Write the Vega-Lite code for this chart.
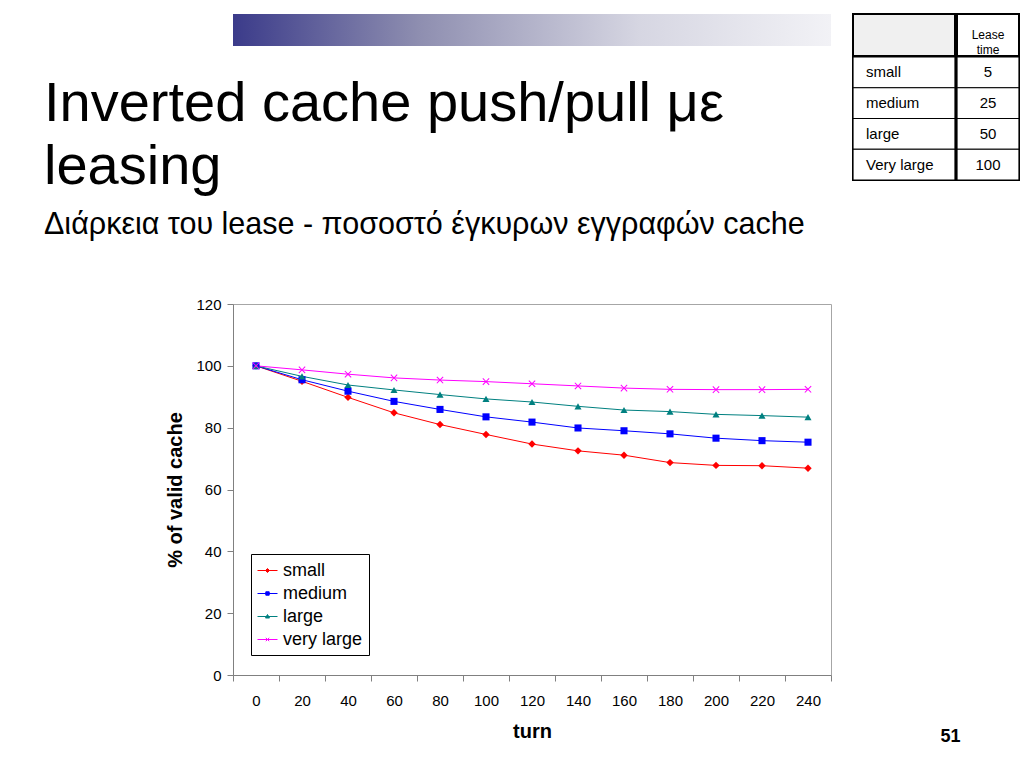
{
  "$schema": "https://vega.github.io/schema/vega-lite/v6.json",
  "background": "white",
  "padding": {"left": 44, "top": 13, "right": 4, "bottom": 4},
  "config": {"font": "Liberation Sans", "view": {"stroke": null}},
  "datasets": {
    "cache": [
      {"turn": 0, "series": "small", "pct": 100}, {"turn": 20, "series": "small", "pct": 95.0}, {"turn": 40, "series": "small", "pct": 89.8}, {"turn": 60, "series": "small", "pct": 84.8}, {"turn": 80, "series": "small", "pct": 81.0}, {"turn": 100, "series": "small", "pct": 77.8}, {"turn": 120, "series": "small", "pct": 74.7}, {"turn": 140, "series": "small", "pct": 72.5}, {"turn": 160, "series": "small", "pct": 71.1}, {"turn": 180, "series": "small", "pct": 68.7}, {"turn": 200, "series": "small", "pct": 67.8}, {"turn": 220, "series": "small", "pct": 67.7}, {"turn": 240, "series": "small", "pct": 66.9},
      {"turn": 0, "series": "medium", "pct": 100}, {"turn": 20, "series": "medium", "pct": 95.5}, {"turn": 40, "series": "medium", "pct": 91.8}, {"turn": 60, "series": "medium", "pct": 88.5}, {"turn": 80, "series": "medium", "pct": 85.9}, {"turn": 100, "series": "medium", "pct": 83.5}, {"turn": 120, "series": "medium", "pct": 81.8}, {"turn": 140, "series": "medium", "pct": 79.9}, {"turn": 160, "series": "medium", "pct": 79.0}, {"turn": 180, "series": "medium", "pct": 78.0}, {"turn": 200, "series": "medium", "pct": 76.6}, {"turn": 220, "series": "medium", "pct": 75.8}, {"turn": 240, "series": "medium", "pct": 75.3},
      {"turn": 0, "series": "large", "pct": 100}, {"turn": 20, "series": "large", "pct": 96.6}, {"turn": 40, "series": "large", "pct": 93.8}, {"turn": 60, "series": "large", "pct": 92.2}, {"turn": 80, "series": "large", "pct": 90.7}, {"turn": 100, "series": "large", "pct": 89.3}, {"turn": 120, "series": "large", "pct": 88.3}, {"turn": 140, "series": "large", "pct": 86.9}, {"turn": 160, "series": "large", "pct": 85.7}, {"turn": 180, "series": "large", "pct": 85.2}, {"turn": 200, "series": "large", "pct": 84.3}, {"turn": 220, "series": "large", "pct": 83.9}, {"turn": 240, "series": "large", "pct": 83.4},
      {"turn": 0, "series": "very large", "pct": 100}, {"turn": 20, "series": "very large", "pct": 98.7}, {"turn": 40, "series": "very large", "pct": 97.3}, {"turn": 60, "series": "very large", "pct": 96.1}, {"turn": 80, "series": "very large", "pct": 95.4}, {"turn": 100, "series": "very large", "pct": 94.9}, {"turn": 120, "series": "very large", "pct": 94.2}, {"turn": 140, "series": "very large", "pct": 93.5}, {"turn": 160, "series": "very large", "pct": 92.8}, {"turn": 180, "series": "very large", "pct": 92.4}, {"turn": 200, "series": "very large", "pct": 92.3}, {"turn": 220, "series": "very large", "pct": 92.3}, {"turn": 240, "series": "very large", "pct": 92.4}
    ],
    "lease": [
      {"size": "small", "time": 5},
      {"size": "medium", "time": 25},
      {"size": "large", "time": 50},
      {"size": "Very large", "time": 100}
    ],
    "header": [{"label": ["Lease", "time"]}]
  },
  "title": {"text": "51", "orient": "bottom", "anchor": "end", "fontSize": 18, "fontWeight": "bold", "color": "black", "dx": -60, "offset": -14},
  "spacing": 55,
  "vconcat": [
    {
      "spacing": 20,
      "hconcat": [
        {
          "width": 598,
          "height": 32,
          "data": {"name": "header"},
          "mark": {
            "type": "rect",
            "opacity": 1,
            "color": {"gradient": "linear", "x1": 0, "x2": 1, "y1": 0, "y2": 0, "stops": [
              {"offset": 0, "color": "#3b3b8a"},
              {"offset": 0.31, "color": "#8e8eb0"},
              {"offset": 0.68, "color": "#d6d6e2"},
              {"offset": 1, "color": "#f2f2f6"}
            ]}
          },
          "encoding": {},
          "title": {
            "text": ["Inverted cache push/pull με", "leasing"],
            "subtitle": "Διάρκεια του lease - ποσοστό έγκυρων εγγραφών cache",
            "orient": "bottom",
            "anchor": "start",
            "frame": "group",
            "dx": -189,
            "fontSize": 56,
            "fontWeight": "normal",
            "color": "black",
            "lineHeight": 63,
            "subtitleFontSize": 30.5,
            "subtitleColor": "black",
            "subtitlePadding": 14,
            "offset": 31
          }
        },
        {
          "columns": 2,
          "spacing": -2,
          "concat": [
            {
              "width": 102,
              "height": 42,
              "view": {"fill": "#f0f0f0", "stroke": "black", "strokeWidth": 2},
              "data": {"name": "header"},
              "mark": {"type": "text", "opacity": 0},
              "encoding": {"text": {"field": "label"}}
            },
            {
              "width": 62,
              "height": 42,
              "view": {"fill": "white", "stroke": "black", "strokeWidth": 2},
              "data": {"name": "header"},
              "mark": {"type": "text", "fontSize": 12, "lineHeight": 15, "baseline": "middle", "color": "black"},
              "encoding": {"text": {"field": "label"}}
            },
            {
              "width": 102,
              "height": 123,
              "view": {"stroke": "black", "strokeWidth": 2},
              "data": {"name": "lease"},
              "encoding": {"y": {"field": "size", "type": "nominal", "sort": null, "scale": {"paddingInner": 0, "paddingOuter": 0}, "axis": null}},
              "layer": [
                {"mark": {"type": "rect", "fill": "white", "stroke": "black", "strokeWidth": 1.2}},
                {"mark": {"type": "text", "align": "left", "dx": -38, "fontSize": 15, "color": "black"}, "encoding": {"text": {"field": "size"}}}
              ]
            },
            {
              "width": 62,
              "height": 123,
              "view": {"stroke": "black", "strokeWidth": 2},
              "data": {"name": "lease"},
              "encoding": {"y": {"field": "size", "type": "nominal", "sort": null, "scale": {"paddingInner": 0, "paddingOuter": 0}, "axis": null}},
              "layer": [
                {"mark": {"type": "rect", "fill": "white", "stroke": "black", "strokeWidth": 1.2}},
                {"mark": {"type": "text", "fontSize": 15, "color": "black"}, "encoding": {"text": {"field": "time"}}}
              ]
            }
          ]
        }
      ]
    },
    {
      "width": 598,
      "height": 371,
      "view": {"stroke": "#a6a6a6", "strokeWidth": 1},
      "data": {"name": "cache"},
      "encoding": {
        "x": {
          "field": "turn",
          "type": "ordinal",
          "scale": {"type": "band", "paddingInner": 0, "paddingOuter": 0},
          "axis": {"title": "turn", "labelAngle": 0, "tickBand": "extent", "grid": false, "domainColor": "#808080", "tickColor": "#808080", "tickSize": 6, "labelFontSize": 15, "labelColor": "black", "labelPadding": 12, "titleFontSize": 20, "titleFontWeight": "bold", "titleColor": "black", "titlePadding": 13}
        },
        "y": {
          "field": "pct",
          "type": "quantitative",
          "scale": {"domain": [0, 120], "nice": false},
          "axis": {"title": "% of valid cache", "values": [0, 20, 40, 60, 80, 100, 120], "grid": false, "domainColor": "#808080", "tickColor": "#808080", "tickSize": 6, "labelFontSize": 15, "labelColor": "black", "labelPadding": 6, "titleFontSize": 20, "titleFontWeight": "bold", "titleColor": "black", "titlePadding": 10}
        },
        "color": {
          "field": "series",
          "type": "nominal",
          "scale": {"domain": ["small", "medium", "large", "very large"], "range": ["#FF0000", "#0000FF", "#008080", "#FF00FF"]},
          "legend": {
            "title": null,
            "orient": "none",
            "legendX": 18,
            "legendY": 540,
            "padding": 6,
            "rowPadding": 3,
            "fillColor": "white",
            "strokeColor": "black",
            "labelFontSize": 18,
            "labelColor": "black",
            "labelOffset": 5,
            "symbolSize": 400,
            "encode": {
              "symbols": {
                "update": {
                  "shape": {"signal": "datum.value === 'small' ? 'M-1,0H1M0,-0.2L0.2,0L0,0.2L-0.2,0Z' : datum.value === 'medium' ? 'M-1,0H1M-0.17,-0.17H0.17V0.17H-0.17Z' : datum.value === 'large' ? 'M-1,0H1M0,-0.2L0.2,0.15H-0.2Z' : 'M-1,0H1M-0.17,-0.17L0.17,0.17M-0.17,0.17L0.17,-0.17'"},
                  "fill": {"signal": "datum.value === 'small' ? '#FF0000' : datum.value === 'medium' ? '#0000FF' : datum.value === 'large' ? '#008080' : '#FF00FF'"},
                  "stroke": {"signal": "datum.value === 'small' ? '#FF0000' : datum.value === 'medium' ? '#0000FF' : datum.value === 'large' ? '#008080' : '#FF00FF'"},
                  "strokeWidth": {"value": 1},
                  "opacity": {"value": 1}
                }
              }
            }
          }
        }
      },
      "layer": [
        {"mark": {"type": "line", "strokeWidth": 1}},
        {"transform": [{"filter": "datum.series === 'small'"}], "mark": {"type": "point", "shape": "diamond", "filled": true, "size": 55, "opacity": 1}},
        {"transform": [{"filter": "datum.series === 'medium'"}], "mark": {"type": "point", "shape": "square", "filled": true, "size": 50, "opacity": 1}},
        {"transform": [{"filter": "datum.series === 'large'"}], "mark": {"type": "point", "shape": "triangle-up", "filled": true, "size": 50, "opacity": 1}},
        {"transform": [{"filter": "datum.series === 'very large'"}], "mark": {"type": "point", "shape": "M-1,-0.8L-0.8,-1L0,-0.2L0.8,-1L1,-0.8L0.2,0L1,0.8L0.8,1L0,0.2L-0.8,1L-1,0.8L-0.2,0Z", "filled": true, "size": 50, "opacity": 1}}
      ]
    }
  ]
}
